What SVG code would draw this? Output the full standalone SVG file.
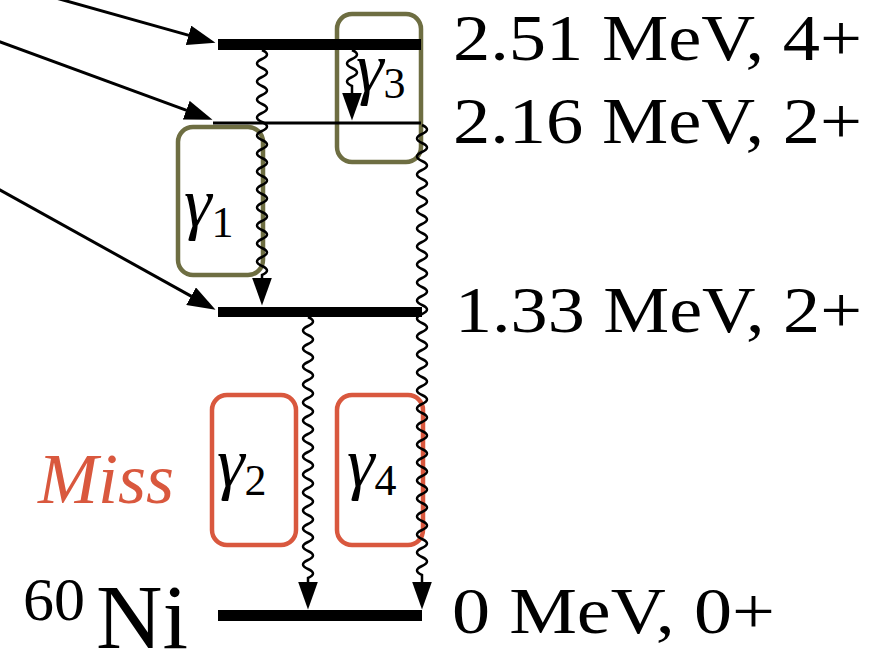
<svg xmlns="http://www.w3.org/2000/svg" width="875" height="656" viewBox="0 0 875 656" font-family="Liberation Serif, DejaVu Serif, serif">
<style>
text{font-family:"Liberation Serif","DejaVu Serif",serif;fill:#000}
.lbl{font-size:65px}
.g{font-size:70px;font-style:italic}
.sub{font-size:44px}
.olive{fill:none;stroke:#6e6e42;stroke-width:4.5}
.red{fill:none;stroke:#d9583e;stroke-width:4.5}
.bar{fill:#000}
.wave{fill:none;stroke:#000;stroke-width:2.5}
.line{fill:none;stroke:#000;stroke-width:3}
</style>
<defs>
<marker id="ah" markerUnits="userSpaceOnUse" viewBox="0 0 28 20" markerWidth="28" markerHeight="20" refX="0.5" refY="10" orient="auto">
<path d="M0,0 L28,10 L0,20 z" fill="#000"/>
</marker>
</defs>
<rect width="875" height="656" fill="#fff"/>

<g id="box-g3">
<rect class="olive" x="337" y="14" width="84" height="148" rx="15"/>
<text x="356" y="91"><tspan class="g">γ</tspan><tspan class="sub" dy="7">3</tspan></text>
</g>
<g id="box-g1">
<rect class="olive" x="178" y="127" width="85" height="148" rx="15"/>
<text x="184" y="226"><tspan class="g">γ</tspan><tspan class="sub" dy="11">1</tspan></text>
</g>
<g id="box-g2">
<rect class="red" x="212" y="395" width="84" height="150" rx="15"/>
<text x="217" y="486"><tspan class="g">γ</tspan><tspan class="sub" dy="9">2</tspan></text>
</g>
<g id="box-g4">
<rect class="red" x="337" y="395" width="86" height="150" rx="15"/>
<text x="347" y="486"><tspan class="g">γ</tspan><tspan class="sub" dy="9">4</tspan></text>
</g>

<g id="level-251">
<rect class="bar" x="218" y="39" width="203" height="11"/>
<text class="lbl" x="453" y="60" textLength="409" lengthAdjust="spacingAndGlyphs">2.51 MeV, 4+</text>
</g>
<g id="level-216">
<rect class="bar" x="213" y="121.5" width="208" height="3"/>
<text class="lbl" x="453" y="143" textLength="409" lengthAdjust="spacingAndGlyphs">2.16 MeV, 2+</text>
</g>
<g id="level-133">
<rect class="bar" x="218" y="307" width="204" height="10"/>
<text class="lbl" x="455" y="332" textLength="407" lengthAdjust="spacingAndGlyphs">1.33 MeV, 2+</text>
</g>
<g id="level-0">
<rect class="bar" x="218" y="610" width="204" height="11"/>
<text class="lbl" x="452" y="633" textLength="323" lengthAdjust="spacingAndGlyphs">0 MeV, 0+</text>
</g>
<g id="nucleus">
<text x="23" y="620" style="font-size:62px">60</text>
<text x="96" y="648" style="font-size:92px">Ni</text>
</g>
<g id="miss">
<text x="38" y="503" style="font-size:72px;font-style:italic;fill:#d9583e">Miss</text>
</g>

<g id="connectors">
<path class="line" marker-end="url(#ah)" d="M-10,-20.5 L189,35.4"/>
<path class="line" marker-end="url(#ah)" d="M-10,38.3 L186.7,110.4"/>
<path class="line" marker-end="url(#ah)" d="M-10,184.4 L191.5,296.4"/>
<path class="wave" marker-end="url(#ah)" d="M262,50 q10,4.5 0,9 t0,9 t0,9 t0,9 t0,9 t0,9 t0,9 t0,9 t0,9 t0,9 t0,9 t0,9 t0,9 t0,9 t0,9 t0,9 t0,9 t0,9 t0,9 t0,9 t0,9 t0,9 t0,9 t0,9 t0,9 L262,278"/>
<path class="wave" marker-end="url(#ah)" d="M352,50 q10,4.5 0,9 t0,9 t0,9 t0,9 L352,93"/>
<path class="wave" marker-end="url(#ah)" d="M422,125 q10,4.5 0,9 t0,9 t0,9 t0,9 t0,9 t0,9 t0,9 t0,9 t0,9 t0,9 t0,9 t0,9 t0,9 t0,9 t0,9 t0,9 t0,9 t0,9 t0,9 t0,9 t0,9 t0,9 t0,9 t0,9 t0,9 t0,9 t0,9 t0,9 t0,9 t0,9 t0,9 t0,9 t0,9 t0,9 t0,9 t0,9 t0,9 t0,9 t0,9 t0,9 t0,9 t0,9 t0,9 t0,9 t0,9 t0,9 t0,9 t0,9 t0,9 t0,9 L422,582"/>
<path class="wave" marker-end="url(#ah)" d="M308,317 q10,4.5 0,9 t0,9 t0,9 t0,9 t0,9 t0,9 t0,9 t0,9 t0,9 t0,9 t0,9 t0,9 t0,9 t0,9 t0,9 t0,9 t0,9 t0,9 t0,9 t0,9 t0,9 t0,9 t0,9 t0,9 t0,9 t0,9 t0,9 t0,9 t0,9 L308,582"/>
</g>
</svg>
